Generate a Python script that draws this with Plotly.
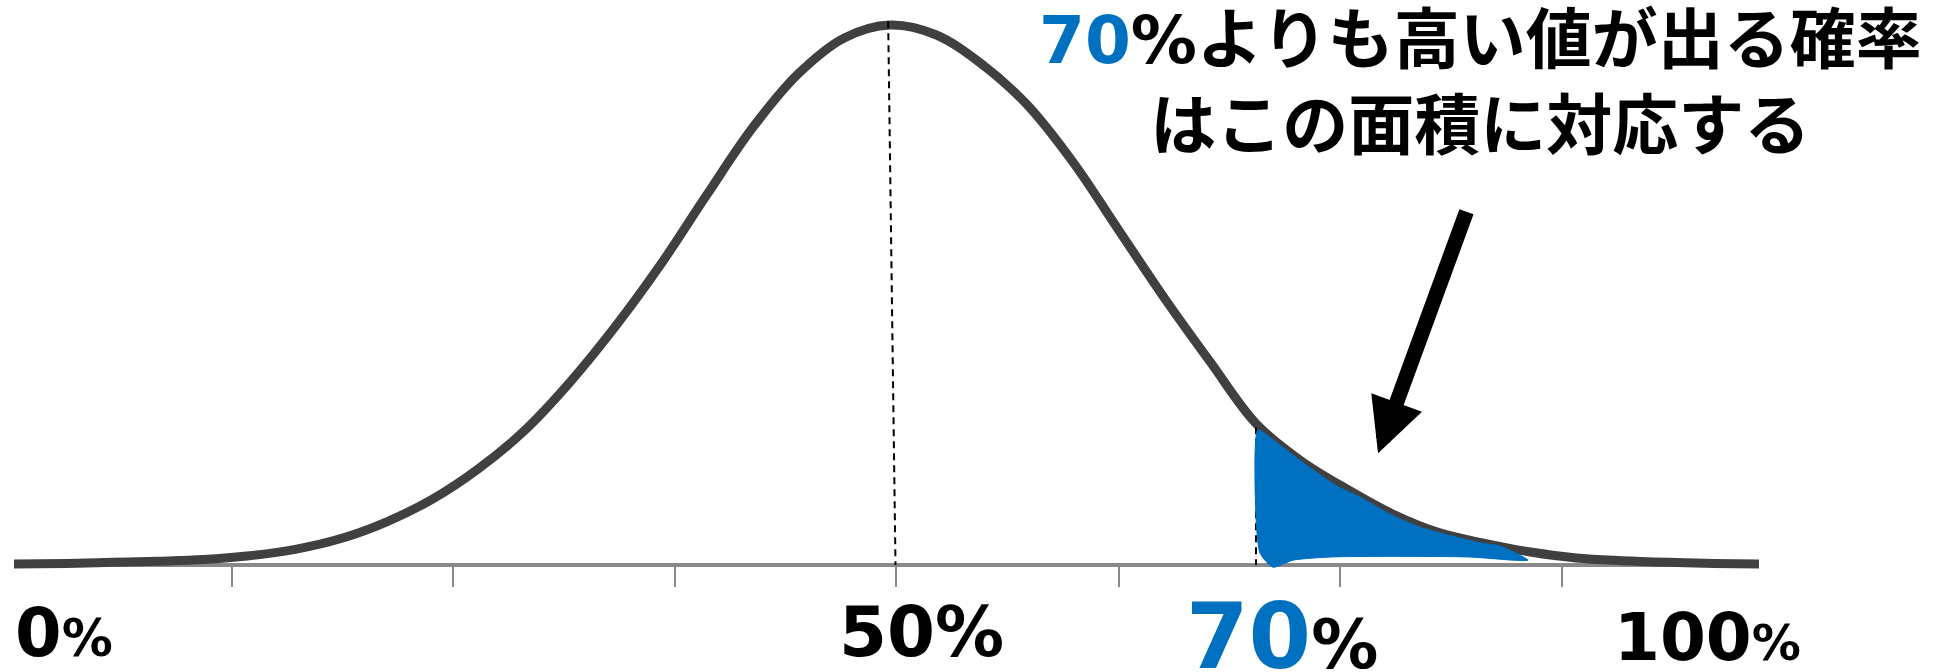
import plotly.graph_objects as go

curve_pct = [2.1, 5.0, 7.5, 10.0, 12.5, 15.0, 17.5, 20.0, 22.5, 25.0,
             27.5, 30.0, 32.5, 35.0, 37.5, 40.0, 42.5, 45.0, 47.5, 50.0,
             52.5, 55.0, 57.5, 60.0, 62.5, 65.0, 67.5, 70.0, 72.5, 75.0,
             77.5, 80.0, 82.5, 85.0, 87.5, 90.0, 92.5, 95.0, 97.5]
curve_height = [0.2, 0.3, 0.5, 0.7, 1.0, 1.7, 2.9, 4.9, 8.0, 12.2,
                17.8, 24.8, 33.8, 44.2, 55.8, 68.6, 81.0, 91.0, 97.6, 100.0,
                98.2, 92.8, 85.2, 74.6, 62.0, 49.4, 37.6, 26.2, 19.2, 14.0,
                9.4, 6.0, 4.0, 2.4, 1.3, 0.8, 0.5, 0.3, 0.2]

# Shaded tail region above 70% (outline of the painted area)
tail_pct = [70.11, 71.15, 72.79, 74.43, 75.68, 77.32, 78.96, 82.24, 83.33, 84.86,
            81.53, 74.21, 72.02, 70.93, 70.22, 69.95, 70.11]
tail_height = [25.0, 22.6, 18.4, 14.6, 12.6, 9.4, 7.0, 4.1, 3.5, 0.9,
               1.5, 1.5, 0.9, -0.4, 2.2, 14.4, 25.0]

# Reference lines: the mean (50%) and the 70% threshold
mean_line_pct = [49.9, 50.3]
mean_line_height = [100.7, 0.0]
threshold_line_pct = [70.0, 70.0]
threshold_line_height = [25.5, 0.0]

# Axis tick positions (percent)
tick_pct = [14.04, 26.12, 38.25, 50.33, 62.51, 74.59, 86.72]

# Arrow from the caption to the shaded area: (tail) -> (head)
arrow_tail = (81.53, 65.7)
arrow_head = (76.67, 20.7)

BLUE = "#0070C0"
CURVE = "#404040"
GREY = "#898989"

W, H = 1945, 672

fig = go.Figure()

fig.add_trace(go.Scatter(
    x=curve_pct, y=curve_height, mode="lines",
    line=dict(color=CURVE, width=9, shape="spline", smoothing=1.0),
    hoverinfo="skip", showlegend=False,
))
fig.add_trace(go.Scatter(
    x=mean_line_pct, y=mean_line_height, mode="lines",
    line=dict(color="black", width=2, dash="7px,5px"),
    hoverinfo="skip", showlegend=False,
))
fig.add_trace(go.Scatter(
    x=threshold_line_pct, y=threshold_line_height, mode="lines",
    line=dict(color="black", width=2, dash="7px,5px"),
    hoverinfo="skip", showlegend=False,
))
fig.add_trace(go.Scatter(
    x=tail_pct, y=tail_height, mode="lines", fill="toself",
    fillcolor=BLUE, line=dict(color=BLUE, width=1, shape="spline", smoothing=0.6),
    hoverinfo="skip", showlegend=False,
))

LABEL_FONT = "DejaVu Sans"
TITLE_FONT = "DejaVu Sans, Noto Sans CJK JP"

annotations = [
    # caption
    dict(
        text=(f"<b><span style='color:{BLUE}'>70</span>%よりも高い値が出る確率<br>"
              "はこの面積に対応する</b>"),
        xref="paper", yref="paper", x=1480 / W, y=1.0,
        xanchor="center", yanchor="top", align="center", showarrow=False,
        font=dict(family=TITLE_FONT, size=66, color="black"),
    ),
    # arrow
    dict(
        text="", x=arrow_head[0], y=arrow_head[1], ax=arrow_tail[0], ay=arrow_tail[1],
        xref="x", yref="y", axref="x", ayref="y", showarrow=True,
        arrowhead=2, arrowsize=0.72, arrowwidth=15, arrowcolor="black",
    ),
    # percentage labels under the axis
    dict(
        text="<b>0<span style='font-size:51px'>%</span></b>",
        xref="paper", yref="paper", x=13 / W, y=(H - 633) / H,
        xanchor="left", yanchor="middle", showarrow=False,
        font=dict(family=LABEL_FONT, size=67, color="black"),
    ),
    dict(
        text="<b>50%</b>",
        xref="paper", yref="paper", x=921 / W, y=(H - 632) / H,
        xanchor="center", yanchor="middle", showarrow=False,
        font=dict(family=LABEL_FONT, size=69, color="black"),
    ),
    dict(
        text=f"<b><span style='color:{BLUE}'>70</span><span style='font-size:67px'>%</span></b>",
        xref="paper", yref="paper", x=1282 / W, y=(H - 636) / H,
        xanchor="center", yanchor="middle", showarrow=False,
        font=dict(family=LABEL_FONT, size=90, color="black"),
    ),
    dict(
        text="<b>100<span style='font-size:49px'>%</span></b>",
        xref="paper", yref="paper", x=1803 / W, y=(H - 637) / H,
        xanchor="right", yanchor="middle", showarrow=False,
        font=dict(family=LABEL_FONT, size=66, color="black"),
    ),
]

# Pixel scale: 50% at x=890, 70% at x=1256; baseline at y=565, peak 540 px above it
px_per_pct = (1256 - 890) / 20.0
px_per_unit = 540 / 100.0
x_left_px, x_right_px = 14, 1759
x_range = [50 + (x_left_px - 890) / px_per_pct, 50 + (x_right_px - 890) / px_per_pct]
baseline_px = 565
y_range = [-(H - baseline_px) / px_per_unit, baseline_px / px_per_unit]

fig.update_layout(
    width=W, height=H,
    margin=dict(l=0, r=0, t=0, b=0),
    paper_bgcolor="white", plot_bgcolor="white",
    showlegend=False,
    annotations=annotations,
    xaxis=dict(
        domain=[x_left_px / W, x_right_px / W], range=x_range,
        showgrid=False, zeroline=False,
        showline=True, linecolor=GREY, linewidth=3.5,
        ticks="outside", ticklen=20, tickwidth=2, tickcolor=GREY,
        tickvals=tick_pct, showticklabels=False,
        anchor="free", position=(H - baseline_px) / H,
        layer="below traces", fixedrange=True,
    ),
    yaxis=dict(
        domain=[0, 1], range=y_range, visible=False, fixedrange=True,
    ),
)

fig.write_html("out.html")
